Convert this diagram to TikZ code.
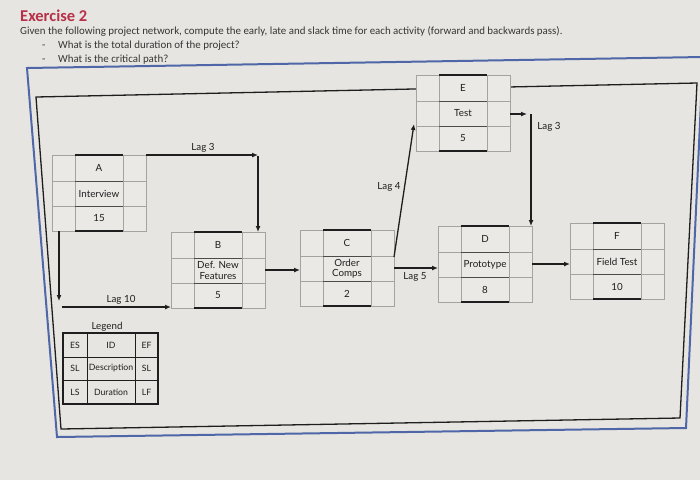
\documentclass[tikz,border=0pt]{standalone}
\usepackage{fontspec}
\setmainfont{Carlito}
\newfontfamily\diagfont{Lato}
\usetikzlibrary{arrows.meta,calc}
\definecolor{bgc}{HTML}{E6E5E1}
\definecolor{cellfill}{HTML}{EAE9E6}
\definecolor{titlered}{HTML}{B73047}
\definecolor{frameblue}{HTML}{4F67A8}
\definecolor{cellgray}{HTML}{A3A3A0}
\definecolor{ink}{HTML}{1E1E1E}
\tikzset{
  actbox/.style={rectangle,minimum width=94pt,minimum height=76pt,inner sep=0pt,outer sep=0pt,fill=cellfill,draw=none},
  cellline/.style={draw=cellgray,line width=0.6pt},
  midline/.style={draw=ink!80,line width=0.7pt},
  heavyline/.style={draw=ink,line width=1.4pt},
  acttext/.style={font=\diagfont\fontsize{9.8}{10.5}\selectfont,text=ink,align=center,inner sep=0pt},
  lagtext/.style={font=\diagfont\fontsize{9.8}{10.5}\selectfont,text=ink,inner sep=0pt},
  conn/.style={draw=ink,line width=1.3pt,-{Latex[length=6pt,width=5pt]}},
  plainconn/.style={draw=ink,line width=1.3pt},
  legcell/.style={draw=ink,line width=0.9pt},
  legtext/.style={font=\diagfont\fontsize{8.7}{9}\selectfont,text=ink,inner sep=0pt},
  headtext/.style={anchor=base west,inner sep=0pt,text=ink!90},
}
\newcommand\actv[5]{%
  \node[actbox,anchor=north west] (#1) at (#2) {};
  \begin{scope}[shift={(#1.north west)}]
    \draw[cellline] (0,0) rectangle (94,76);
    \draw[cellline] (0,26) -- (23,26) (71,26) -- (94,26) (0,51) -- (23,51) (71,51) -- (94,51)
      (23,0) -- (23,76) (71,0) -- (71,76);
    \draw[midline] (23,26) -- (71,26) (23,51) -- (71,51);
    \draw[heavyline] (23,0) -- (71,0) (23,76) -- (71,76);
    \node[acttext] (#1-id) at (47,13) {#3};
    \node[acttext] (#1-desc) at (47,38.5) {#4};
    \node[acttext] (#1-dur) at (47,63.5) {#5};
  \end{scope}}
\begin{document}
\begin{tikzpicture}[x=1pt,y=-1pt]
  \fill[bgc] (0,0) rectangle (700,480);
  \useasboundingbox (0,0) rectangle (700,480);
  % header
  \node[headtext,text=titlered,font=\fontsize{16.5}{18}\selectfont\bfseries] (title) at (20,21) {Exercise 2};
  \node[headtext,font=\fontsize{10.9}{12}\selectfont] (intro) at (20,34) {Given the following project network, compute the early, late and slack time for each activity (forward and backwards pass).};
  \node[headtext,font=\fontsize{10.9}{12}\selectfont] (b1) at (42,48.5) {-};
  \node[headtext,font=\fontsize{10.9}{12}\selectfont] (q1) at (58,48.5) {What is the total duration of the project?};
  \node[headtext,font=\fontsize{10.9}{12}\selectfont] (b2) at (42,62.5) {-};
  \node[headtext,font=\fontsize{10.9}{12}\selectfont] (q2) at (58,62.5) {What is the critical path?};
  % frames
  \draw[frameblue,line width=2pt] (27,68) -- (703,57) -- (686,428) -- (57,437) -- cycle;
  \draw[ink,line width=1.3pt] (36,97) -- (697,83) -- (680,418) -- (61,429) -- cycle;
  % activities
  \actv{A}{52,155}{A}{Interview}{15}
  \actv{B}{171,232}{B}{Def. New\\Features}{5}
  \actv{C}{300,230}{C}{Order\\Comps}{2}
  \actv{E}{416,75}{E}{Test}{5}
  \actv{D}{438,226}{D}{Prototype}{8}
  \actv{F}{570,223}{F}{Field Test}{10}
  % connectors
  \coordinate (ab) at ($(B.north west)+(87,-77)$);
  \draw[conn] (A.north east) -- (ab);
  \draw[conn] ($(ab)+(0,1)$) -- ($(B.north west)+(87,0)$);
  \node[lagtext] (l1) at (203,148) {Lag 3};
  \coordinate (a10) at ($(A.south west)+(7,70)$);
  \draw[conn] ($(A.south west)+(7,0)$) -- (a10);
  \coordinate (b10) at ($(a10)+(3,6)$);
  \draw[conn] (b10) -- (b10 -| B.west);
  \node[lagtext] (l2) at (121,300) {Lag 10};
  \draw[conn] (B.east) -- (B.east -| C.west);
  \draw[conn] ($(C.north east)+(0,27)$) -- ($(E.south west)+(-2,-27)$);
  \node[lagtext] (l3) at (389,187) {Lag 4};
  \draw[conn] (C.east) -- (C.east -| D.west);
  \node[lagtext] (l4) at (415,277) {Lag 5};
  \coordinate (ed) at ($(E.east)+(17,1)$);
  \draw[conn] ($(E.east)+(0,1)$) -- (ed);
  \draw[conn] ($(ed)+(4,0)$) -- ($(D.north east)+(-1,0)$);
  \node[lagtext] (l5) at (549,127) {Lag 3};
  \draw[conn] (D.east) -- (D.east -| F.west);
  % legend
  \node[lagtext] (legtitle) at (107,327) {Legend};
  \node[rectangle,minimum width=95pt,minimum height=71pt,inner sep=0pt,outer sep=0pt,anchor=north west,draw=none] (legend) at (63,333) {};
  \begin{scope}[shift={(legend.north west)}]
    \draw[legcell,line width=1.4pt] (0,0) rectangle (95,71);
    \draw[legcell] (0,24) -- (95,24) (0,47) -- (95,47) (24,0) -- (24,71) (72,0) -- (72,71);
    \node[legtext] (lg1) at (12,12) {ES};
    \node[legtext] (lg2) at (48,12) {ID};
    \node[legtext] (lg3) at (83.5,12) {EF};
    \node[legtext] (lg4) at (12,35.5) {SL};
    \node[legtext] (lg5) at (48,35.5) {Description};
    \node[legtext] (lg6) at (83.5,35.5) {SL};
    \node[legtext] (lg7) at (12,59) {LS};
    \node[legtext] (lg8) at (48,59) {Duration};
    \node[legtext] (lg9) at (83.5,59) {LF};
  \end{scope}
\end{tikzpicture}
\end{document}
